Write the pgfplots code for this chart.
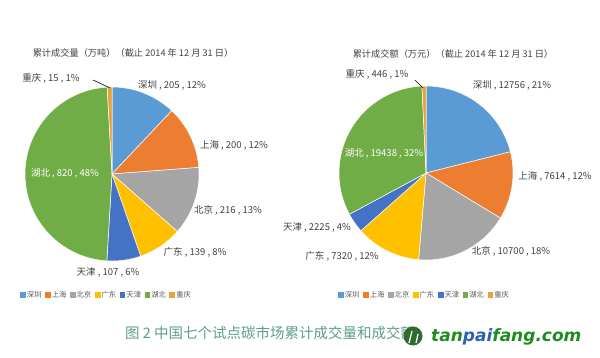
\documentclass[border=0pt]{standalone}
\usepackage{pgfplots}
\pgfplotsset{compat=1.18}
\usepackage{pgfplotstable}
\usepackage{fontspec}
\setmainfont{Noto Sans CJK SC}
\newfontfamily\wmfont{DejaVu Sans}

\definecolor{cSZ}{HTML}{5B9BD5}
\definecolor{cSH}{HTML}{ED7D31}
\definecolor{cBJ}{HTML}{A5A5A5}
\definecolor{cGD}{HTML}{FFC000}
\definecolor{cTJ}{HTML}{4472C4}
\definecolor{cHB}{HTML}{70AD47}
\definecolor{cCQ}{HTML}{E6A23C}
\definecolor{labcol}{HTML}{404040}
\definecolor{legcol}{HTML}{595959}
\definecolor{capcol}{HTML}{5E9E8B}
\definecolor{wmgreen}{HTML}{1E8C1E}
\definecolor{wmblue}{HTML}{2F5FB0}
\definecolor{wmdark}{HTML}{2E6B2E}

% cumulative volume (10k t), to 2014-12-31
\pgfplotstableread{
city value
深圳 205
上海 200
北京 216
广东 139
天津 107
湖北 820
重庆 15
}\volume
% cumulative turnover (10k yuan), to 2014-12-31
\pgfplotstableread{
city value
深圳 12756
上海 7614
北京 10700
广东 7320
天津 2225
湖北 19438
重庆 446
}\turnover

\newcommand\pieangles[2]{%
  \def\tot{0}%
  \pgfplotsforeachungrouped \i in {0,...,6}{%
    \pgfplotstablegetelem{\i}{value}\of{#1}%
    \edef\tot{\fpeval{\tot+\pgfplotsretval}}}%
  \def\cum{0}%
  \pgfplotsforeachungrouped \i in {0,...,6}{%
    \pgfplotstablegetelem{\i}{value}\of{#1}%
    \expandafter\xdef\csname #2\i s\endcsname{\fpeval{90-360*\cum/\tot}}%
    \edef\cum{\fpeval{\cum+\pgfplotsretval}}%
    \expandafter\xdef\csname #2\i e\endcsname{\fpeval{90-360*\cum/\tot}}}%
}
\pieangles{\volume}{A}
\pieangles{\turnover}{B}

% #1 cx, #2 cy, #3 r, #4 slice id, #5 colour
\newcommand\slice[5]{%
  \edef\dom{\csname #4e\endcsname:\csname #4s\endcsname}%
  \edef\tmp{\noexpand\addplot[draw=white, line width=0.5pt, fill=#5,
     domain=\dom, samples=80, variable=\noexpand\t]
     ({#1+#3*cos(\noexpand\t)},{#2-#3*sin(\noexpand\t)}) -- (axis cs:#1,#2) -- cycle;}%
  \tmp}

\pgfplotsset{pieaxis/.style={
  scale only axis, width=300pt, height=358pt,
  xmin=0, xmax=300, ymin=0, ymax=358, y dir=reverse,
  hide axis, clip=false, anchor=south west,
  legend columns=-1,
  legend style={draw=none, fill=none, anchor=center,
    font=\fontsize{7.3}{8}\selectfont, text=legcol,
    nodes={inner sep=1pt},
    /tikz/every even column/.append style={column sep=2.5pt}},
  legend image code/.code={\fill[##1, draw=none] (0pt,-2.7pt) rectangle (5.8pt,3.1pt);},
}}
\tikzset{lab/.style={font=\fontsize{9.5}{10}\selectfont, text=labcol, inner sep=0pt},
         ttl/.style={font=\fontsize{9.2}{10}\selectfont, text=labcol, inner sep=0pt}}

\begin{document}
\begin{tikzpicture}
\path (0,0) rectangle (600pt,358pt);
\begin{axis}[pieaxis, at={(0pt,0pt)},
  legend style={at={(106/300,63/358)}}]
  \slice{112}{174}{87}{A0}{cSZ}\addlegendentry{深圳}
  \slice{112}{174}{87}{A1}{cSH}\addlegendentry{上海}
  \slice{112}{174}{87}{A2}{cBJ}\addlegendentry{北京}
  \slice{112}{174}{87}{A3}{cGD}\addlegendentry{广东}
  \slice{112}{174}{87}{A4}{cTJ}\addlegendentry{天津}
  \slice{112}{174}{87}{A5}{cHB}\addlegendentry{湖北}
  \slice{112}{174}{87}{A6}{cCQ}\addlegendentry{重庆}
  \node[ttl] at (axis cs:133,53) {累计成交量（万吨）（截止 2014 年 12 月 31 日）};
  \node[lab] at (axis cs:51,78) {重庆 , 15 , 1\%};
  \draw[black, line width=0.6pt] (axis cs:93,80) -- (axis cs:110,88);
  \node[lab] at (axis cs:172,85) {深圳 , 205 , 12\%};
  \node[lab] at (axis cs:234,145) {上海 , 200 , 12\%};
  \node[lab] at (axis cs:228,210) {北京 , 216 , 13\%};
  \node[lab] at (axis cs:195,252) {广东 , 139 , 8\%};
  \node[lab] at (axis cs:108,272) {天津 , 107 , 6\%};
  \node[lab, text=white] at (axis cs:65,173) {湖北 , 820 , 48\%};
  \node[anchor=west, font=\fontsize{14.5}{16}\selectfont, text=capcol, inner sep=0pt]
     at (axis cs:125,333) {图 2 中国七个试点碳市场累计成交量和成交额};
  \fill[wmdark] (axis cs:413,336) circle[radius=9.5pt];
  \draw[white, line width=1.3pt] (axis cs:409,343) -- (axis cs:412,331) (axis cs:416,343) -- (axis cs:418,334);
  \node[anchor=west, font=\wmfont\bfseries\itshape\fontsize{17}{18}\selectfont, inner sep=0pt]
     at (axis cs:431,337) {\textcolor{wmgreen}{tan}\textcolor{wmblue}{pai}\textcolor{wmgreen}{fang.com}};
\end{axis}
\begin{axis}[pieaxis, at={(300pt,0pt)},
  legend style={at={(124/300,63/358)}}]
  \slice{126}{173}{87}{B0}{cSZ}\addlegendentry{深圳}
  \slice{126}{173}{87}{B1}{cSH}\addlegendentry{上海}
  \slice{126}{173}{87}{B2}{cBJ}\addlegendentry{北京}
  \slice{126}{173}{87}{B3}{cGD}\addlegendentry{广东}
  \slice{126}{173}{87}{B4}{cTJ}\addlegendentry{天津}
  \slice{126}{173}{87}{B5}{cHB}\addlegendentry{湖北}
  \slice{126}{173}{87}{B6}{cCQ}\addlegendentry{重庆}
  \node[ttl] at (axis cs:153,54) {累计成交额（万元）（截止 2014 年 12 月 31 日）};
  \node[lab] at (axis cs:77,74) {重庆 , 446 , 1\%};
  \draw[black, line width=0.6pt] (axis cs:115,80) -- (axis cs:123,88);
  \node[lab] at (axis cs:212,85) {深圳 , 12756 , 21\%};
  \node[lab] at (axis cs:255,176) {上海 , 7614 , 12\%};
  \node[lab] at (axis cs:211,251) {北京 , 10700 , 18\%};
  \node[lab] at (axis cs:42,256) {广东 , 7320 , 12\%};
  \node[lab] at (axis cs:17,227) {天津 , 2225 , 4\%};
  \node[lab, text=white] at (axis cs:84,153) {湖北 , 19438 , 32\%};
\end{axis}
\end{tikzpicture}
\end{document}
